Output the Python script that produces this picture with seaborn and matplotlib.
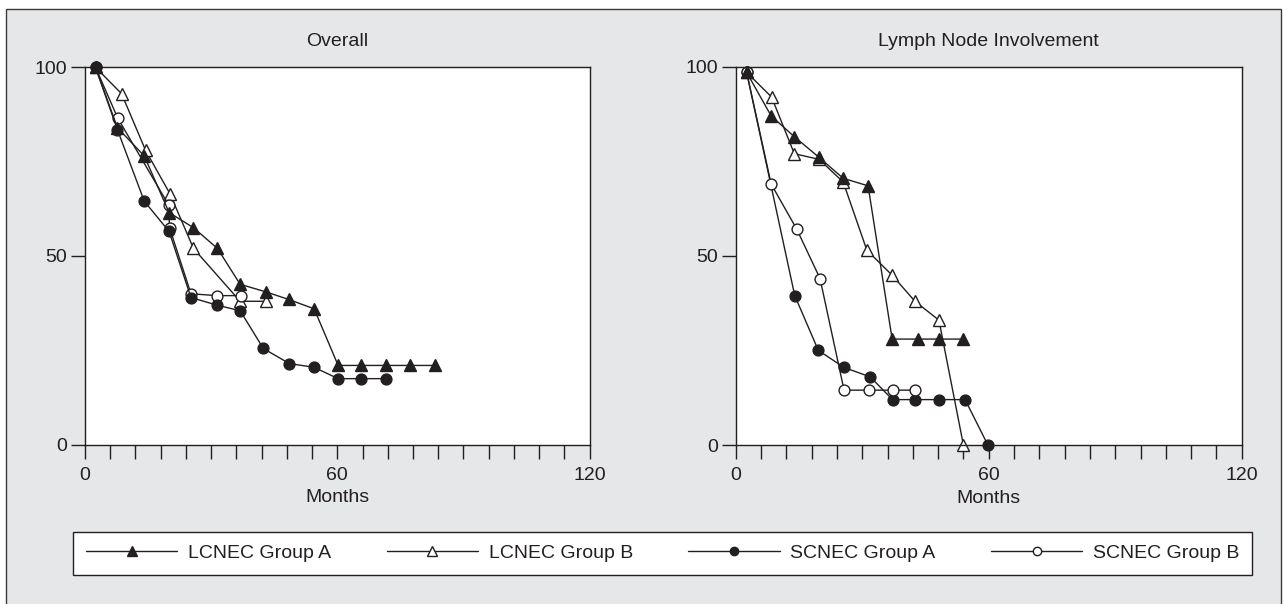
import numpy as np
import pandas as pd
import matplotlib
matplotlib.use("Agg")
import matplotlib.pyplot as plt
import seaborn as sns
from matplotlib.patches import Rectangle
from matplotlib.lines import Line2D
from matplotlib.ticker import MultipleLocator

# ---------------- data (months, survival %) ----------------
series_names = ["LCNEC Group A", "LCNEC Group B", "SCNEC Group A", "SCNEC Group B"]
panel_titles = ["Overall", "Lymph Node Involvement"]
x_ticks = [0, 60, 120]
y_ticks = [0, 50, 100]
x_label = "Months"

# Overall
ov_lcA_m = [2.5, 7.7, 14.1, 20.0, 25.8, 31.5, 36.9, 43.0, 48.4, 54.5, 60.2, 65.6, 71.7, 77.3, 83.2]
ov_lcA_s = [100, 84, 76.5, 61.5, 57.5, 52, 42.5, 40.5, 38.5, 36, 21, 21, 21, 21, 21]
ov_lcB_m = [2.5, 8.7, 14.4, 20.2, 25.8, 36.9, 43.0]
ov_lcB_s = [100, 93, 78, 66.5, 52, 38, 38]
ov_scA_m = [2.5, 7.7, 14.1, 20.0, 25.2, 31.3, 36.9, 42.4, 48.6, 54.5, 60.2, 65.6, 71.7]
ov_scA_s = [100, 83.5, 64.5, 56.5, 39, 37, 35.5, 25.5, 21.5, 20.5, 17.5, 17.5, 17.5]
ov_scB_m = [2.5, 7.8, 19.9, 20.1, 25.2, 31.3, 37.0]
ov_scB_s = [100, 86.5, 63.5, 57.5, 40, 39.5, 39.5]

# Lymph node involvement
ln_lcA_m = [2.6, 8.4, 13.9, 19.8, 25.5, 31.4, 37.1, 43.2, 48.2, 54.0]
ln_lcA_s = [98.5, 87, 81.5, 76, 70.5, 68.5, 28, 28, 28, 28]
ln_lcB_m = [2.6, 8.5, 13.9, 19.8, 25.5, 31.1, 37.0, 42.5, 48.2, 54.0]
ln_lcB_s = [98.5, 92, 77, 75.5, 69.5, 51.5, 45, 38, 33, 0]
ln_scA_m = [2.6, 14.0, 19.6, 25.7, 31.9, 37.2, 42.5, 48.2, 54.4, 59.8]
ln_scA_s = [98.5, 39.5, 25, 20.5, 18, 12, 12, 12, 12, 0]
ln_scB_m = [2.6, 8.4, 14.5, 20.0, 25.7, 31.6, 37.4, 42.5]
ln_scB_s = [98.5, 69, 57, 44, 14.5, 14.5, 14.5, 14.5]

panels = [
    {"LCNEC Group A": (ov_lcA_m, ov_lcA_s), "LCNEC Group B": (ov_lcB_m, ov_lcB_s),
     "SCNEC Group A": (ov_scA_m, ov_scA_s), "SCNEC Group B": (ov_scB_m, ov_scB_s)},
    {"LCNEC Group A": (ln_lcA_m, ln_lcA_s), "LCNEC Group B": (ln_lcB_m, ln_lcB_s),
     "SCNEC Group A": (ln_scA_m, ln_scA_s), "SCNEC Group B": (ln_scB_m, ln_scB_s)},
]
draw_orders = [
    ["LCNEC Group B", "SCNEC Group B", "LCNEC Group A", "SCNEC Group A"],
    ["SCNEC Group A", "SCNEC Group B", "LCNEC Group B", "LCNEC Group A"],
]

# ---------------- style ----------------
INK = "#231f20"
BG = "#e6e7e8"
sns.set_theme(style="ticks")
plt.rcParams["font.family"] = ["Liberation Sans", "DejaVu Sans"]
plt.rcParams.update({
    "text.color": INK, "axes.labelcolor": INK,
    "xtick.color": INK, "ytick.color": INK,
    "axes.edgecolor": INK,
})

styles = {
    "LCNEC Group A": dict(marker="^", mfc=INK, ms=8.5, lms=6.5),
    "LCNEC Group B": dict(marker="^", mfc="white", ms=8.5, lms=6.5),
    "SCNEC Group A": dict(marker="o", mfc=INK, ms=7.8, lms=6.0),
    "SCNEC Group B": dict(marker="o", mfc="white", ms=7.8, lms=6.0),
}

W, H = 1283, 604
fig = plt.figure(figsize=(W / 100, H / 100), dpi=100)
fig.patch.set_facecolor("white")
fig.add_artist(Rectangle((6 / W, -0.05), 1275 / W, 595 / H + 0.05,
                         transform=fig.transFigure, facecolor=BG,
                         edgecolor="#3a3a3a", lw=1.0, zorder=-10))

axes_px = [(85, 67.3, 589.6, 444.7), (735.7, 66.7, 1241.7, 445)]

for i, (x0, y1, x1, y0) in enumerate(axes_px):
    ax = fig.add_axes([x0 / W, 1 - y0 / H, (x1 - x0) / W, (y0 - y1) / H])
    ax.set_facecolor("white")
    data = panels[i]
    for name in draw_orders[i]:
        xs, ys = data[name]
        st = styles[name]
        df = pd.DataFrame({"Months": xs, "Survival": ys})
        sns.lineplot(data=df, x="Months", y="Survival", ax=ax, sort=False,
                     estimator=None, color=INK, linewidth=1.0,
                     marker=st["marker"], markersize=st["ms"],
                     markerfacecolor=st["mfc"], markeredgecolor=INK,
                     markeredgewidth=1.0, clip_on=False, legend=False)
    ax.set_xlim(0, 120)
    ax.set_ylim(0, 100)
    ax.set_xticks(x_ticks)
    ax.set_yticks(y_ticks)
    ax.xaxis.set_minor_locator(MultipleLocator(6))
    ax.tick_params(axis="both", which="both", direction="out", length=10,
                   width=1.0, color=INK, labelsize=14, pad=3)
    ax.tick_params(axis="x", which="major", pad=6)
    for sp in ax.spines.values():
        sp.set_visible(True)
        sp.set_linewidth(1.0)
        sp.set_color(INK)
    ax.set_title(panel_titles[i], fontsize=14, pad=15, color=INK)
    ax.set_xlabel(x_label, fontsize=14, labelpad=4)
    ax.set_ylabel("")

handles = [Line2D([], [], color=INK, lw=1.0, marker=styles[n]["marker"],
                  markersize=styles[n]["lms"], markerfacecolor=styles[n]["mfc"],
                  markeredgecolor=INK, markeredgewidth=1.0) for n in series_names]
leg = fig.legend(handles, series_names, loc="center",
                 bbox_to_anchor=(73.3 / W, 1 - 577.7 / H, (1252 - 73.3) / W, 48.7 / H),
                 mode="expand", ncol=4, frameon=True, fancybox=False,
                 edgecolor=INK, facecolor="white", framealpha=1, fontsize=14,
                 handlelength=4.7, handletextpad=0.55, borderaxespad=0,
                 borderpad=0.65)
leg.get_frame().set_linewidth(1.0)

fig.savefig("out.png", dpi=100)
